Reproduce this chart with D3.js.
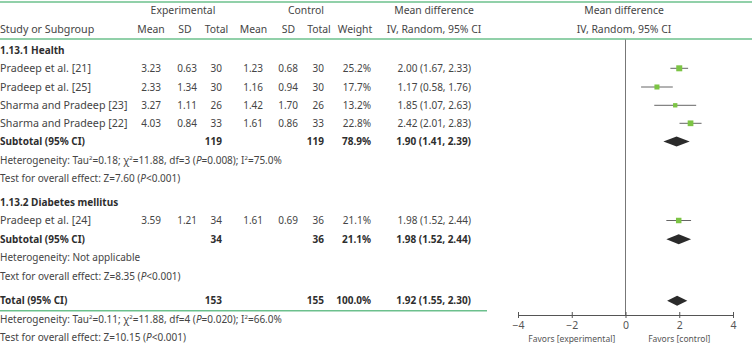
<!DOCTYPE html>
<html><head><meta charset="utf-8">
<script src="https://cdn.jsdelivr.net/npm/d3@7"></script>
<style>
body{margin:0;background:#fff;}
text{font-family:"Noto Sans",sans-serif;}
</style></head>
<body><svg id="c" width="752" height="350"></svg>
<script>
// ---- data ----
const studies = ["Pradeep et al. [21]","Pradeep et al. [25]","Sharma and Pradeep [23]","Sharma and Pradeep [22]","Pradeep et al. [24]"];
const studyGroup = [1,1,1,1,2];
const expMean = [3.23,2.33,3.27,4.03,3.59];
const expSD = [0.63,1.34,1.11,0.84,1.21];
const expTotal = [30,30,26,33,34];
const ctrlMean = [1.23,1.16,1.42,1.61,1.61];
const ctrlSD = [0.68,0.94,1.70,0.86,0.69];
const ctrlTotal = [30,30,26,33,36];
const weights = [25.2,17.7,13.2,22.8,21.1];
const md = [2.00,1.17,1.85,2.42,1.98];
const mdLo = [1.67,0.58,1.07,2.01,1.52];
const mdHi = [2.33,1.76,2.63,2.83,2.44];
const summaryLabels = ["Subtotal (95% CI)","Subtotal (95% CI)","Total (95% CI)"];
const summaryExpTotal = [119,34,153];
const summaryCtrlTotal = [119,36,155];
const summaryWeight = [78.9,21.1,100.0];
const summaryMD = [1.90,1.98,1.92];
const summaryLo = [1.41,1.52,1.55];
const summaryHi = [2.39,2.44,2.30];
const groupTitles = ["1.13.1 Health","1.13.2 Diabetes mellitus"];
const xTicks = [-4,-2,0,2,4];
const favorLabels = ["Favors [experimental]","Favors [control]"];

// ---- layout ----
const svg = d3.select("#c");
const green = "#6cc08d";
const txt = "#454545", bold = "#2e2e2e";
const fs = 10;
const x = d3.scaleLinear().domain([-4,4]).range([518,733]);
const rowY = {
  h1:10.5, h2:29, g1:50, s:[68.3,87,105.3,123.3,220.5],
  sub1:141.5, het1:160.3, test1:178.8, g2:202, sub2:239.3, het2:257.8, test2:276.5,
  tot:300.7, het3:319.5, test3:337.5
};
const colR = {em:161, esd:197, et:222, cm:263, csd:298, ct:324, w:371, md:471};
const colH = {em:151, esd:185, et:216.5, cm:253.5, csd:288.5, ct:319, w:355, md:434, plot:624};

function t(xp,y,s,opt={}){
  return svg.append("text").attr("x",xp).attr("y",y).attr("dy","0.35em")
    .attr("font-size",opt.size||fs).attr("fill",opt.fill||txt)
    .attr("font-weight",opt.bold?"bold":null)
    .attr("text-anchor",opt.anchor||"start").text(s);
}

// green rules
svg.append("line").attr("x1",0).attr("x2",752).attr("y1",2).attr("y2",2).attr("stroke",green).attr("stroke-width",1.5);
svg.append("line").attr("x1",0).attr("x2",752).attr("y1",39).attr("y2",39).attr("stroke",green).attr("stroke-width",1.5);
svg.append("line").attr("x1",0).attr("x2",487).attr("y1",310.8).attr("y2",310.8).attr("stroke",green).attr("stroke-width",1.5);

// headers
const hs = 10.4;
t(183,rowY.h1,"Experimental",{anchor:"middle",size:hs});
t(306,rowY.h1,"Control",{anchor:"middle",size:hs});
t(colH.md,rowY.h1,"Mean difference",{anchor:"middle",size:hs});
t(colH.plot,rowY.h1,"Mean difference",{anchor:"middle",size:hs});
t(0,rowY.h2,"Study or Subgroup",{size:10.7});
[["em","Mean"],["esd","SD"],["et","Total"],["cm","Mean"],["csd","SD"],["ct","Total"],["w","Weight"]].forEach(([k,s])=>t(colH[k],rowY.h2,s,{anchor:"middle",size:hs}));
t(colH.md,rowY.h2,"IV, Random, 95% CI",{anchor:"middle",size:hs});
t(colH.plot,rowY.h2,"IV, Random, 95% CI",{anchor:"middle",size:hs});

// group titles
t(0,rowY.g1,groupTitles[0],{bold:true,fill:bold});
t(0,rowY.g2,groupTitles[1],{bold:true,fill:bold});

const f2 = d3.format(".2f");
const ci = (m,l,h)=>`${f2(m)} (${f2(l)}, ${f2(h)})`;

// study rows
studies.forEach((s,i)=>{
  const y = rowY.s[i];
  t(0,y,s,{size:10.7});
  t(colR.em,y,f2(expMean[i]),{anchor:"end"});
  t(colR.esd,y,f2(expSD[i]),{anchor:"end"});
  t(colR.et,y,expTotal[i],{anchor:"end"});
  t(colR.cm,y,f2(ctrlMean[i]),{anchor:"end"});
  t(colR.csd,y,f2(ctrlSD[i]),{anchor:"end"});
  t(colR.ct,y,ctrlTotal[i],{anchor:"end"});
  t(colR.w,y,weights[i].toFixed(1)+"%",{anchor:"end"});
  t(colR.md,y,ci(md[i],mdLo[i],mdHi[i]),{anchor:"end"});
});

// summary rows
const sumY = [rowY.sub1,rowY.sub2,rowY.tot];
summaryLabels.forEach((s,i)=>{
  const y = sumY[i];
  t(0,y,s,{bold:true,fill:bold});
  t(colR.et,y,summaryExpTotal[i],{anchor:"end",bold:true,fill:bold});
  t(colR.ct,y,summaryCtrlTotal[i],{anchor:"end",bold:true,fill:bold});
  t(colR.w,y,summaryWeight[i].toFixed(1)+"%",{anchor:"end",bold:true,fill:bold});
  t(colR.md,y,ci(summaryMD[i],summaryLo[i],summaryHi[i]),{anchor:"end",bold:true,fill:bold});
});

// heterogeneity / test lines
function het(y,tau,chi,df,p,i2){
  const e = svg.append("text").attr("x",0).attr("y",y).attr("dy","0.35em").attr("font-size",fs).attr("fill",txt);
  const sup = ()=>e.append("tspan").attr("font-size",6).attr("dy",-4).text("2");
  const back = (s)=>e.append("tspan").attr("dy",4).text(s);
  e.append("tspan").text("Heterogeneity: Tau");
  sup(); back(`=${tau}; χ`); sup(); back(`=${chi}, df=${df} (`);
  e.append("tspan").attr("font-style","italic").text("P");
  e.append("tspan").text(`=${p}); I`); sup(); back(`=${i2}%`);
}
function test(y,label,z){
  const e = svg.append("text").attr("x",0).attr("y",y).attr("dy","0.35em").attr("font-size",fs).attr("fill",txt);
  e.append("tspan").text(`${label}: Z=${z} (`);
  e.append("tspan").attr("font-style","italic").text("P");
  e.append("tspan").text("<0.001)");
}
het(rowY.het1,"0.18","11.88",3,"0.008","75.0");
test(rowY.test1,"Test for overall effect","7.60");
t(0,rowY.het2,"Heterogeneity: Not applicable");
test(rowY.test2,"Text for overall effect","8.35");
het(rowY.het3,"0.11","11.88",4,"0.020","66.0");
test(rowY.test3,"Test for overall effect","10.15");

// forest plot
const axisY = 315;
svg.append("line").attr("x1",x(0)).attr("x2",x(0)).attr("y1",39.5).attr("y2",axisY).attr("stroke","#777").attr("stroke-width",1);
const ax = svg.append("g").attr("transform",`translate(0,${axisY})`)
  .call(d3.axisBottom(x).tickValues(xTicks).tickSize(0).tickFormat(d3.format("d")));
ax.select(".domain").attr("stroke","#555");
ax.selectAll(".tick text").attr("font-family","Noto Sans").attr("font-size",10.5).attr("fill","#555").attr("dy","0.35em").attr("y",10.5);
ax.selectAll(".tick").append("line").attr("y1",-3).attr("y2",3).attr("stroke","#555");
t(x(-2),339,favorLabels[0],{anchor:"middle",size:8.5,fill:"#555"});
t(x(2),339,favorLabels[1],{anchor:"middle",size:8.5,fill:"#555"});

const sz = d3.scaleSqrt().domain([0,25.2]).range([0,6]);
studies.forEach((s,i)=>{
  const y = rowY.s[i];
  svg.append("line").attr("x1",x(mdLo[i])).attr("x2",x(mdHi[i])).attr("y1",y).attr("y2",y).attr("stroke","#666").attr("stroke-width",1);
  const w = sz(weights[i]);
  svg.append("rect").attr("x",x(md[i])-w/2).attr("y",y-w/2).attr("width",w).attr("height",w).attr("fill","#7cc444");
});
summaryMD.forEach((m,i)=>{
  const y = sumY[i], h = 5;
  svg.append("path").attr("d",`M${x(summaryLo[i])},${y}L${x(m)},${y-h}L${x(summaryHi[i])},${y}L${x(m)},${y+h}Z`).attr("fill","#2b2b2b");
});
</script></body></html>
